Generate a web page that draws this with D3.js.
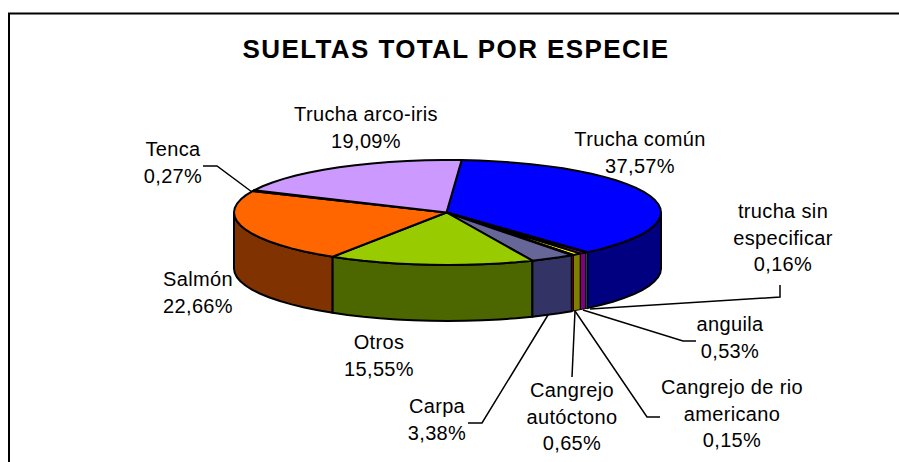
<!DOCTYPE html>
<html>
<head>
<meta charset="utf-8">
<script src="https://d3js.org/d3.v7.min.js"></script>
<style>
  html, body { margin: 0; padding: 0; background: #fff; }
  svg { display: block; }
  text { font-family: "Liberation Sans", Arial, sans-serif; fill: #000; }
</style>
</head>
<body>
<div id="chart"></div>
<script>
const width = 899;
const height = 462;

// data, clockwise from the top of the pie
const categories = ["Trucha común", "trucha sin especificar", "anguila", "Cangrejo autóctono",
  "Cangrejo de rio americano", "Carpa", "Otros", "Salmón", "Tenca", "Trucha arco-iris"];
const values = [37.57, 0.16, 0.53, 0.65, 0.15, 3.38, 15.55, 22.66, 0.27, 19.09];
const topColors = ["#0000ff", "#00ffff", "#ff00ff", "#ffff00", "#ff0000", "#666699", "#99cc00", "#ff6600", "#ffcc99", "#cc99ff"];
const sideColors = ["#000080", "#008080", "#800080", "#808000", "#800000", "#333366", "#4c6600", "#803300", "#806633", "#664c80"];
const labelLines = [["Trucha común"], ["trucha sin", "especificar"], ["anguila"], ["Cangrejo", "autóctono"],
  ["Cangrejo de rio", "americano"], ["Carpa"], ["Otros"], ["Salmón"], ["Tenca"], ["Trucha arco-iris"]];
const labelX = [640, 783, 730, 572, 732, 437, 379, 198, 173, 366];
const labelY = [146, 218, 331, 397, 394, 413, 349, 286, 156, 121];
const leaders = [null, [[590, 309], [780, 297], [780, 285]], [[583, 310], [683, 341], [696, 341]],
  [[575, 311], [572, 377]], [[575, 311], [647, 417], [660, 417]], [[548, 315], [482, 423], [468, 423]],
  null, null, [[252, 192], [217, 166], [203, 166]], null];

// pie geometry
const cx = 447.5, cy = 212.5, rx = 213.5, ry = 52.5, depth = 56;
const startAngle = 3.8 * Math.PI / 180;

const pie = d3.pie().sort(null).value(d => d)
  .startAngle(startAngle).endAngle(startAngle + 2 * Math.PI);
const slices = pie(values);

const xAt = a => cx + rx * Math.sin(a);
const yAt = a => cy - ry * Math.cos(a);
const line = d3.line();

// points round the rim, coarse like the original
function rim(a0, a1, dy) {
  const n = Math.max(1, Math.ceil((a1 - a0) / (5 * Math.PI / 180)));
  return d3.range(n + 1).map(i => {
    const a = a0 + (a1 - a0) * i / n;
    return [xAt(a), yAt(a) + dy];
  });
}

const svg = d3.select("#chart").append("svg")
  .attr("width", width)
  .attr("height", height);

// frame, right and bottom are cut off
svg.append("path")
  .attr("d", "M9,462V13.5H899")
  .attr("fill", "none")
  .attr("stroke", "#000")
  .attr("stroke-width", 2);

svg.append("text")
  .attr("x", 456)
  .attr("y", 58)
  .attr("text-anchor", "middle")
  .attr("font-size", 26)
  .attr("font-weight", "bold")
  .attr("letter-spacing", 1.4)
  .text("SUELTAS TOTAL POR ESPECIE");

// side walls, only the front half is seen. big ones first so slivers stay visible
const lo = Math.PI / 2, hi = 3 * Math.PI / 2;
const thin = d => d.value < 1;
svg.selectAll("path.side")
  .data(slices.filter(d => d.endAngle > lo && d.startAngle < hi)
    .sort((a, b) => b.value - a.value))
  .join("path")
  .attr("class", "side")
  .attr("fill", d => sideColors[d.index])
  .attr("stroke", "#000")
  .attr("stroke-width", d => thin(d) ? 1 : 2)
  .attr("stroke-linejoin", "round")
  .attr("d", d => {
    const a0 = Math.max(d.startAngle, lo), a1 = Math.min(d.endAngle, hi);
    return line(rim(a0, a1, 0).concat(rim(a0, a1, depth).reverse())) + "Z";
  });

// top faces
svg.selectAll("path.top")
  .data(slices)
  .join("path")
  .attr("class", "top")
  .attr("fill", d => topColors[d.index])
  .attr("stroke", "#000")
  .attr("stroke-width", 2)
  .attr("stroke-linejoin", "round")
  .attr("d", d => line([[cx - 1, cy]].concat(rim(d.startAngle, d.endAngle, 0))) + "Z");

// leader lines
svg.selectAll("path.leader")
  .data(leaders.filter(d => d))
  .join("path")
  .attr("class", "leader")
  .attr("fill", "none")
  .attr("stroke", "#000")
  .attr("stroke-width", 1.5)
  .attr("d", d => line(d));

// labels
const fmt = v => v.toFixed(2).replace(".", ",") + "%";
const labels = svg.selectAll("text.label")
  .data(categories)
  .join("text")
  .attr("class", "label")
  .attr("text-anchor", "middle")
  .attr("font-size", 20)
  .attr("letter-spacing", 0.35);

labels.each(function(d, i) {
  const rows = labelLines[i].concat(fmt(values[i]));
  d3.select(this).selectAll("tspan")
    .data(rows)
    .join("tspan")
    .attr("x", labelX[i])
    .attr("y", (r, j) => labelY[i] + j * 26.5)
    .text(r => r);
});
</script>
</body>
</html>
